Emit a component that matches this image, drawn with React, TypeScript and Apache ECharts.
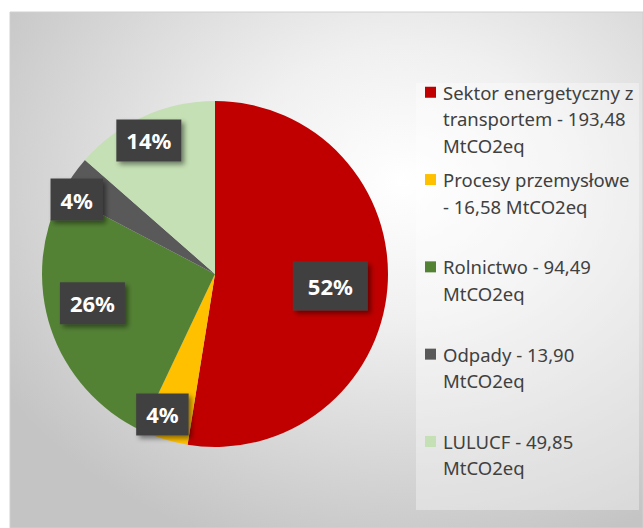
import React, { useEffect, useRef } from "react";
import * as echarts from "echarts";

const categories = [
  "Sektor energetyczny z transportem",
  "Procesy przemysłowe",
  "Rolnictwo",
  "Odpady",
  "LULUCF",
];
const values = [193.48, 16.58, 94.49, 13.9, 49.85];
const percentLabels = ["52%", "4%", "26%", "4%", "14%"];
const legendLabels = [
  "Sektor energetyczny z\ntransportem - 193,48\nMtCO2eq",
  "Procesy przemysłowe\n- 16,58 MtCO2eq",
  "Rolnictwo - 94,49\nMtCO2eq",
  "Odpady - 13,90\nMtCO2eq",
  "LULUCF - 49,85\nMtCO2eq",
];
const colors = ["#c00000", "#ffc000", "#548235", "#595959", "#c5e0b4"];

export default function App() {
  const ref = useRef<HTMLDivElement>(null);
  useEffect(() => {
    if (!ref.current) return;
    const chart = echarts.init(ref.current, undefined, { renderer: "svg" });
    const cx = 215;
    const cy = 274;
    const labelDist = [116, 150, 126, 157, 149];
    const labelTurn = [1.4, 3.3, 5.1, -6.2, -2];
    const LH = 26.5;
    const rich: any = {
      gap: { width: 7 },
      ind: { width: 18, lineHeight: LH, fontSize: 18.5 },
      t: {
        fontSize: 18.5,
        lineHeight: LH,
        color: "#404040",
        fontFamily: "Noto Sans",
      },
    };
    colors.forEach((c, i) => {
      rich["sq" + i] = { width: 11, height: 11, backgroundColor: c };
    });
    const legends = categories.map((name, idx) => {
      const lines = legendLabels[idx].split("\n");
      return {
        orient: "vertical",
        left: 420,
        top: 79 + idx * 87.3,
        padding: 0,
        icon: "none",
        itemWidth: 0,
        itemHeight: lines.length * LH,
        selectedMode: false,
        data: [name],
        formatter: () =>
          lines
            .map(
              (l, j) =>
                (j === 0 ? `{sq${idx}|}{gap|}` : `{ind| }`) + `{t|${l}}`
            )
            .join("\n"),
        textStyle: { rich },
      };
    });
    chart.setOption({
      animation: false,
      graphic: [
        {
          type: "rect",
          z: -10,
          shape: { x: 10, y: 12, width: 633, height: 516 },
          style: {
            fill: new echarts.graphic.RadialGradient(0.62, 0.33, 0.75, [
              { offset: 0, color: "#ffffff" },
              { offset: 0.35, color: "#f0f0f0" },
              { offset: 1, color: "#c4c4c4" },
            ]),
            stroke: "#d0d0d0",
            lineWidth: 1,
          },
        },
        {
          type: "rect",
          z: -9,
          shape: { x: 416, y: 83, width: 223, height: 427 },
          style: { fill: "rgba(255,255,255,0.35)" },
        },
      ],
      legend: legends,
      series: [
        {
          type: "pie",
          center: [cx, cy],
          radius: [0, 173],
          startAngle: 90,
          clockwise: true,
          avoidLabelOverlap: false,
          itemStyle: { borderWidth: 0 },
          label: {
            show: true,
            position: "inside",
            formatter: (p: any) => percentLabels[p.dataIndex],
            color: "#ffffff",
            fontFamily: "Noto Sans",
            fontWeight: "bold",
            fontSize: 22,
            lineHeight: 24,
            backgroundColor: "#404040",
            padding: [9, 10, 9, 10],
            shadowColor: "rgba(0,0,0,0.45)",
            shadowBlur: 5,
            shadowOffsetX: 3,
            shadowOffsetY: 3,
          },
          labelLine: { show: false },
          labelLayout: (params: any) => {
            const r = params.labelRect;
            const mx = r.x + r.width / 2;
            const my = r.y + r.height / 2;
            const a =
              Math.atan2(my - cy, mx - cx) +
              (labelTurn[params.dataIndex] * Math.PI) / 180;
            const L = labelDist[params.dataIndex];
            return { x: cx + Math.cos(a) * L, y: cy + Math.sin(a) * L };
          },
          data: categories.map((name, i) => ({
            name,
            value: values[i],
            itemStyle: { color: colors[i] },
            label: i === 0 ? { padding: [12, 15, 13, 15] } : {},
          })),
        },
      ],
    });
    return () => chart.dispose();
  }, []);
  return (
    <div
      ref={ref}
      style={{ position: "absolute", left: 0, top: 0, width: 643, height: 528 }}
    />
  );
}
